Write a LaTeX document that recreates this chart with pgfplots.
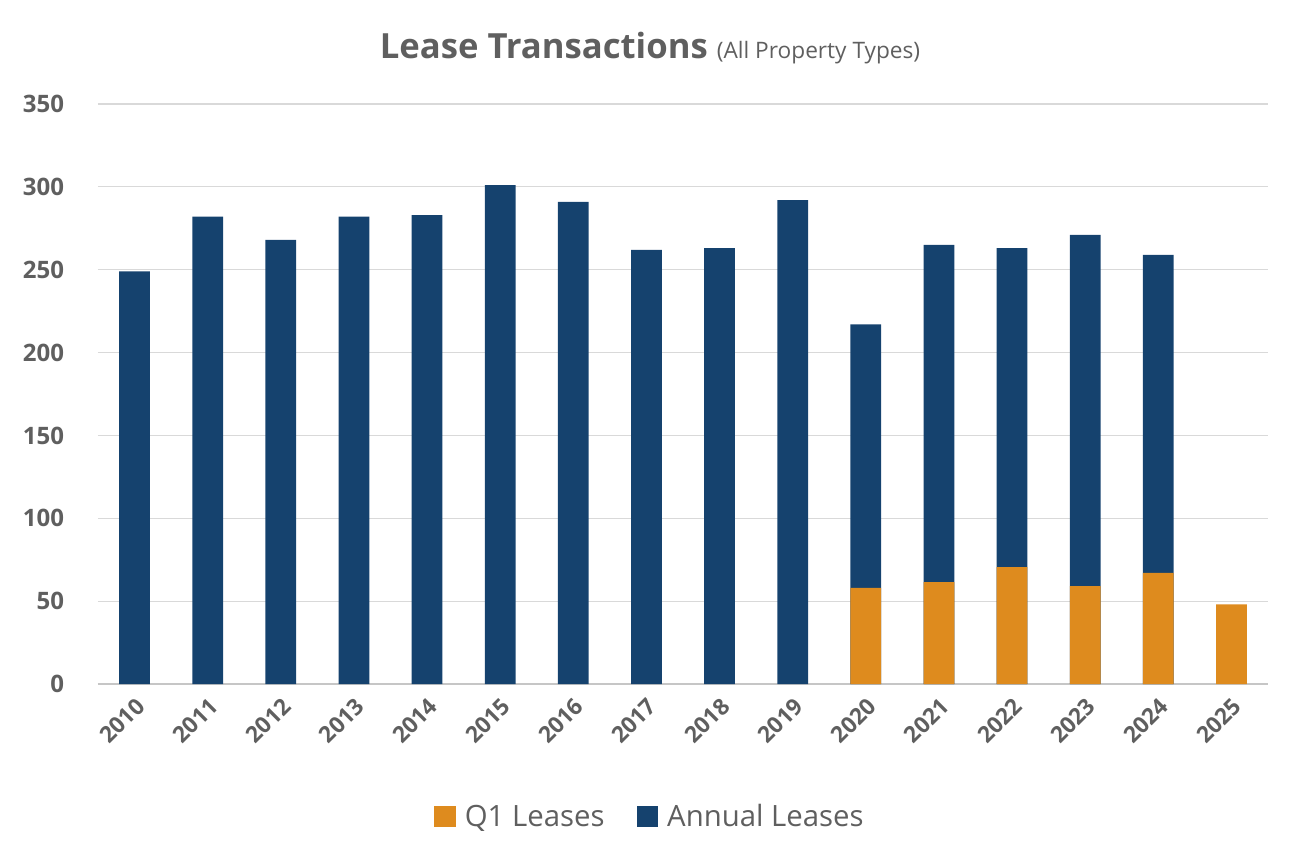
\documentclass[border=0pt]{standalone}
\usepackage{pgfplots}
\pgfplotsset{compat=1.18}
\usepackage{fontspec}
\setmainfont{Open Sans}
\definecolor{navy}{HTML}{15426E}
\definecolor{orng}{HTML}{DE8B1E}
\definecolor{txt}{HTML}{5F5F5F}
\begin{document}
\begin{tikzpicture}
\begin{axis}[name=ax, scale only axis, width=877.5pt, height=435pt,
  xmin=-0.5, xmax=15.5, ymin=0, ymax=350,
  ytick={0,50,...,350}, xtick={0,...,15},
  xticklabels={2010,2011,2012,2013,2014,2015,2016,2017,2018,2019,2020,2021,2022,2023,2024,2025},
  x tick label style={rotate=45, anchor=north east, font=\fontsize{17}{17}\selectfont\bfseries, text=txt},
  y tick label style={font=\fontsize{18}{18}\selectfont\bfseries, text=txt},
  yticklabel style={xshift=-22pt},
  /pgf/number format/assume math mode=true,
  ymajorgrids, grid style={draw=gray!30, line width=0.8pt},
  axis lines*=left, y axis line style={draw=none}, x axis line style={draw=gray!45, line width=0.8pt},
  axis line style={-},
  tick style={draw=none},
  ybar, bar width=23pt, bar shift=0pt,
  legend style={at={(0.472,-0.229)}, anchor=center, draw=none, legend columns=2,
    font=\fontsize{22}{22}\selectfont, text=txt, /tikz/every even column/.append style={column sep=22pt},
    /tikz/every odd column/.append style={column sep=5pt}},
  legend image code/.code={\fill[#1] (0pt,-8pt) rectangle (16pt,8pt);},
  reverse legend,
]
\addplot[fill=navy, draw=none] coordinates {(0,249)(1,282)(2,268)(3,282)(4,283)(5,301)(6,291)(7,262)(8,263)(9,292)(10,217)(11,265)(12,263)(13,271)(14,259)};
\addlegendentry{Annual Leases}
\addplot[fill=orng, draw=none] coordinates {(10,58)(11,61.5)(12,70.6)(13,59)(14,67)(15,48)};
\addlegendentry{Q1 Leases}
\end{axis}
\node[text=txt, anchor=base] at ([xshift=414pt, yshift=34pt]ax.north west) {\fontsize{26}{26}\selectfont\bfseries Lease Transactions \fontsize{17}{17}\selectfont\mdseries(All Property Types)};
\path[use as bounding box] ([xshift=-73.5pt, yshift=-137.25pt]ax.south west) rectangle ([xshift=902.25pt, yshift=78pt]ax.north west);
\end{tikzpicture}
\end{document}
